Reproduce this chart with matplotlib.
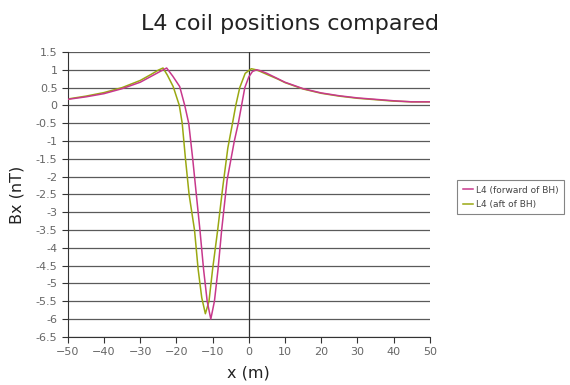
import matplotlib
matplotlib.use("Agg")
import matplotlib.pyplot as plt

# data
x_fwd = [-50, -45, -40, -35, -30, -26, -24, -22.7, -21, -19.1, -17.7, -16.6, -15.5, -14.5,
         -13.5, -12.5, -11.5, -10.5, -9.5, -8.5, -7.5, -6, -4, -2.9, -2.0, -1.1, 0,
         1, 2.1, 3, 5, 8, 10, 15, 20, 25, 30, 35, 40, 45, 50]
bx_fwd = [0.17, 0.24, 0.33, 0.47, 0.65, 0.87, 0.98, 1.05, 0.82, 0.53, 0.0, -0.5, -1.5, -2.5,
          -3.5, -4.6, -5.5, -6.0, -5.5, -4.6, -3.5, -2.1, -1.0, -0.5, 0.0, 0.5, 0.8,
          0.95, 1.0, 0.98, 0.9, 0.75, 0.65, 0.47, 0.35, 0.27, 0.21, 0.17, 0.13, 0.1, 0.1]

x_aft = [-50, -45, -40, -35, -30, -27, -25, -23.7, -22.5, -20.9, -19.2, -18.4, -17.5, -16.5,
         -15, -14, -13, -12, -11, -10, -8.6, -7.2, -5.8, -4.5, -3.6, -2.5, -1, 0.7,
         2, 3, 5, 8, 10, 15, 20, 25, 30, 35, 40, 45, 50]
bx_aft = [0.18, 0.26, 0.36, 0.5, 0.7, 0.87, 0.99, 1.05, 0.85, 0.53, 0.0, -0.5, -1.5, -2.5,
          -3.5, -4.6, -5.4, -5.85, -5.5, -4.6, -3.5, -2.3, -1.2, -0.5, 0.0, 0.5, 0.9, 1.03,
          1.0, 0.96, 0.87, 0.74, 0.64, 0.46, 0.34, 0.26, 0.2, 0.16, 0.12, 0.1, 0.1]

labels = ["L4 (forward of BH)", "L4 (aft of BH)"]
colors = ["#c8388c", "#9aa812"]

plt.rcParams['font.family'] = ['DejaVu Sans']

fig = plt.figure(figsize=(5.7, 3.85), dpi=100)
ax = fig.add_axes([0.119, 0.125, 0.635, 0.74])

# horizontal grid every 0.5
yticks = [1.5 - 0.5 * i for i in range(17)]
for yv in yticks:
    ax.axhline(yv, color="#5a5a5a", lw=0.9, zorder=1)
ax.axvline(0, color="#333333", lw=0.9, zorder=1)

ax.plot(x_fwd, bx_fwd, color=colors[0], lw=1.1, label=labels[0], zorder=3)
ax.plot(x_aft, bx_aft, color=colors[1], lw=1.1, label=labels[1], zorder=2)

ax.set_xlim(-50, 50)
ax.set_ylim(-6.5, 1.5)
ax.set_xticks(range(-50, 51, 10))
ax.set_yticks(yticks)
ax.set_yticklabels(["%g" % v for v in yticks])

for s in ["top", "right"]:
    ax.spines[s].set_visible(False)
ax.spines["left"].set_color("#333333")
ax.spines["bottom"].set_color("#333333")
ax.tick_params(labelsize=8, colors="#333333", labelcolor="#666666", length=4, width=0.8)

ax.set_xlabel("x (m)", fontsize=11.5, color="#222222", labelpad=6)
ax.set_ylabel("Bx (nT)", fontsize=11.5, color="#222222", labelpad=8)
fig.text(0.509, 0.938, "L4 coil positions compared", ha="center", va="center",
         fontsize=16, color="#222222")

leg = ax.legend(loc="center left", bbox_to_anchor=(1.063, 0.49), fontsize=6.5,
                frameon=True, fancybox=False, handlelength=1.2, borderpad=0.6,
                labelspacing=0.6, handletextpad=0.3)
leg.get_frame().set_edgecolor("#666666")
leg.get_frame().set_linewidth(0.8)
for t in leg.get_texts():
    t.set_color("#444444")

fig.savefig("out.png", dpi=100)
